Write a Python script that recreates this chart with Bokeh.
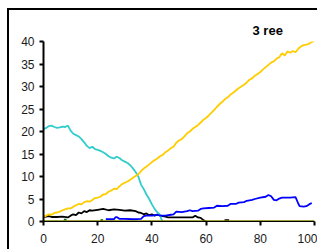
import math
from bokeh.plotting import figure
from bokeh.models import Range1d, FixedTicker
from bokeh.embed import file_html
from bokeh.resources import INLINE

NaN = float("nan")

# ---- data ----
cyan_x = [0, 1, 2, 3, 4, 5, 6, 7, 8, 9, 10, 11, 12, 13, 14, 15, 16, 17, 18, 19, 20,
          21, 22, 23, 24, 25, 26, 27, 28, 29, 30, 31, 32, 33, 34, 35, 36, 37, 38, 39,
          40, 41, 42, 43, 43.5, 44]
cyan_y = [20.5, 20.8, 21.2, 21.3, 21.0, 20.8, 20.9, 21.1, 21.0, 21.3, 20.2, 19.5, 19.2,
          18.9, 18.3, 17.6, 16.8, 16.3, 16.6, 16.1, 15.9, 15.7, 15.4, 15.0, 14.5, 14.2,
          14.0, 14.4, 14.1, 13.6, 13.3, 13.0, 12.5, 11.8, 11.0, 10.0, 8.2, 7.2, 6.0, 5.0,
          3.8, 2.8, 2.0, 1.5, 0.5, 0.0]

yellow_x = list(range(0, 101))
yellow_y = [1.0, 1.3, 1.6, 1.5, 1.9, 2.0, 2.2, 2.5, 2.7, 2.9, 2.9, 3.3, 3.6, 3.9, 3.8,
            4.3, 4.5, 4.4, 4.8, 5.2, 5.3, 5.5, 6.0, 6.1, 6.6, 6.9, 7.3, 7.2, 7.8, 8.3,
            8.6, 8.9, 9.3, 9.7, 10.1, 10.5, 11.2, 11.8, 12.2, 12.7, 13.2, 13.6, 14.0,
            14.5, 14.8, 15.4, 15.8, 16.3, 16.6, 17.5, 18.0, 18.3, 18.9, 19.6, 20.0, 20.6,
            21.0, 21.4, 22.0, 22.6, 23.0, 23.6, 24.2, 24.8, 25.5, 26.1, 26.6, 27.2, 27.6,
            28.2, 28.6, 29.1, 29.6, 30.0, 30.4, 30.9, 31.5, 31.8, 32.4, 32.8, 33.2, 33.8,
            34.3, 34.8, 35.3, 35.6, 36.2, 36.5, 37.4, 36.9, 37.8, 37.5, 37.9, 37.6, 38.4,
            38.9, 39.2, 39.3, 39.5, 39.9, 40.2]

black_x = [0, 2, 3, 5, 7, 9, 10, 11, 12, 13, 14, 15, 16, 17, 18, 20, 22, 24, 26, 28, 30,
           32, 34, 35, 36, 37, 38, 39, 40, 41, 42, 44, 45, 46, 50, 55, 56, 57, 58, 59, 60,
           NaN, 66.8, 68.5]
black_y = [1.0, 1.2, 1.0, 1.0, 1.1, 0.9, 1.3, 1.6, 1.4, 2.0, 1.8, 2.3, 2.1, 2.5, 2.4, 2.6,
           2.8, 2.5, 2.7, 2.6, 2.4, 2.5, 2.3, 2.0, 1.9, 1.6, 1.8, 1.4, 1.6, 1.3, 1.5, 1.2,
           1.1, 0.9, 0.9, 0.9, 1.3, 0.9, 0.8, 0.3, 0.0,
           NaN, 0.3, 0.3]

blue_x = [23, 26, 26.5, 27, 28, 30, 33, 36, 37, 38, 40, 42, 43, 45, 47, 48, 49, 51, 53, 54,
          55, 57, 58, 59, 61, 63, 64, 66, 68, 69, 71, 72, 74, 75, 77, 78, 80, 82, 83, 84,
          85, 86, 87, 88, 90, 91, 93, 94, 94.5, 96, 97, 98, 99]
blue_y = [0.5, 0.5, 0.9, 1.0, 0.6, 0.6, 0.5, 0.6, 1.2, 1.3, 1.3, 1.5, 1.3, 1.3, 1.5, 1.6,
          2.2, 2.1, 2.3, 2.5, 2.3, 2.4, 2.8, 2.9, 3.0, 3.1, 3.5, 3.4, 3.5, 3.9, 3.9, 4.2,
          4.3, 4.6, 4.8, 5.0, 5.3, 5.5, 5.9, 5.6, 4.8, 4.7, 5.1, 5.3, 5.3, 5.3, 5.4, 4.0,
          3.4, 3.3, 3.4, 3.8, 4.1]

green_x = [7.5, 8.5, NaN, 21, 22]
green_y = [0.4, 0.4, NaN, 0.3, 0.3]

olive_x = [0, 100]
olive_y = [0, 0]

y_ticks = [0, 5, 10, 15, 20, 25, 30, 35, 40]
x_ticks = [0, 20, 40, 60, 80, 100]
title_text = "3 ree"

FONT = "Liberation Sans"

p = figure(width=310, height=241, output_backend="svg", toolbar_location=None,
           x_range=Range1d(0, 100), y_range=Range1d(0, 40),
           min_border_left=34, min_border_right=5, min_border_top=31,
           min_border_bottom=30, title=title_text)
# outer chart border (extends past the window on the right and bottom)
p.styles = {"margin-left": "7px", "margin-top": "8px",
            "border-left": "2px solid black", "border-top": "2px solid black"}
p.outline_line_color = None
p.background_fill_color = "white"
p.border_fill_color = "white"
p.xgrid.visible = False
p.ygrid.visible = False

p.title.align = "left"
p.title.offset = 209
p.title.standoff = 8
p.title.vertical_align = "bottom"
p.title.text_font = FONT
p.title.text_font_size = "13px"
p.title.text_font_style = "bold"
p.title.text_color = "black"

# y axis
ya = p.yaxis[0]
ya.ticker = FixedTicker(ticks=y_ticks)
ya.axis_line_width = 2
ya.axis_line_color = "black"
ya.major_tick_line_width = 2
ya.major_tick_in = 0
ya.major_tick_out = 4
ya.minor_tick_line_color = None
ya.major_label_standoff = 5
ya.major_label_text_font = FONT
ya.major_label_text_font_size = "12px"
ya.major_label_text_color = "#1a1a1a"

# x axis
xa = p.xaxis[0]
xa.ticker = FixedTicker(ticks=x_ticks)
xa.axis_line_width = 1
xa.axis_line_color = "black"
xa.major_tick_line_width = 2
xa.major_tick_in = 0
xa.major_tick_out = 4
xa.minor_tick_line_color = None
xa.major_label_standoff = 8
xa.major_label_text_font = FONT
xa.major_label_text_font_size = "12px"
xa.major_label_text_color = "#1a1a1a"

p.line(black_x, black_y, line_color="black", line_width=1.8)
p.line(green_x, green_y, line_color="#006600", line_width=1.8)
p.line(cyan_x, cyan_y, line_color="#33CCCC", line_width=1.8)
p.line(yellow_x, yellow_y, line_color="#FFCC00", line_width=1.8)
p.line(blue_x, blue_y, line_color="#0000FF", line_width=1.8)
p.line(olive_x, olive_y, line_color="#808000", line_width=2.5)

open("out.html", "w").write(file_html(p, INLINE))
